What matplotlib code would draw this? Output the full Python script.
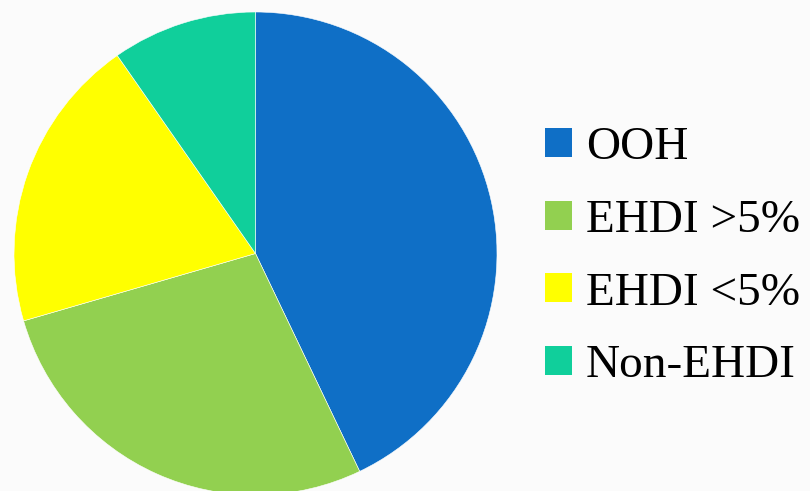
import matplotlib
matplotlib.use("Agg")
import matplotlib.pyplot as plt
from matplotlib.patches import Patch

categories = ["OOH", "EHDI >5%", "EHDI <5%", "Non-EHDI"]
values = [42.9, 27.6, 19.8, 9.7]
colors = ["#0F6FC6", "#92D050", "#FFFF00", "#10CF9B"]

W, H = 810, 491
fig = plt.figure(figsize=(W / 100, H / 100), dpi=100)
fig.patch.set_facecolor("#FBFBFB")
ax = fig.add_axes([0, 0, 1, 1])
ax.set_xlim(0, W)
ax.set_ylim(0, H)
ax.set_aspect("equal")
ax.axis("off")

ax.pie(values, colors=colors, startangle=90, counterclock=False,
       center=(255.5, H - 253.5), radius=241.5,
       wedgeprops=dict(edgecolor="white", linewidth=0.4))
ax.set_xlim(0, W)
ax.set_ylim(0, H)

handles = [Patch(facecolor=c, edgecolor="none") for c in colors]
leg = ax.legend(handles, categories, loc="center left",
                bbox_to_anchor=(545 / W, (H - 257) / H),
                bbox_transform=fig.transFigure,
                frameon=False, prop=dict(family="Liberation Serif", size=34),
                handlelength=0.57, handleheight=0.57, handletextpad=0.3,
                labelspacing=0.64, borderpad=0, borderaxespad=0)

fig.savefig("out.png", dpi=100, facecolor=fig.get_facecolor())
